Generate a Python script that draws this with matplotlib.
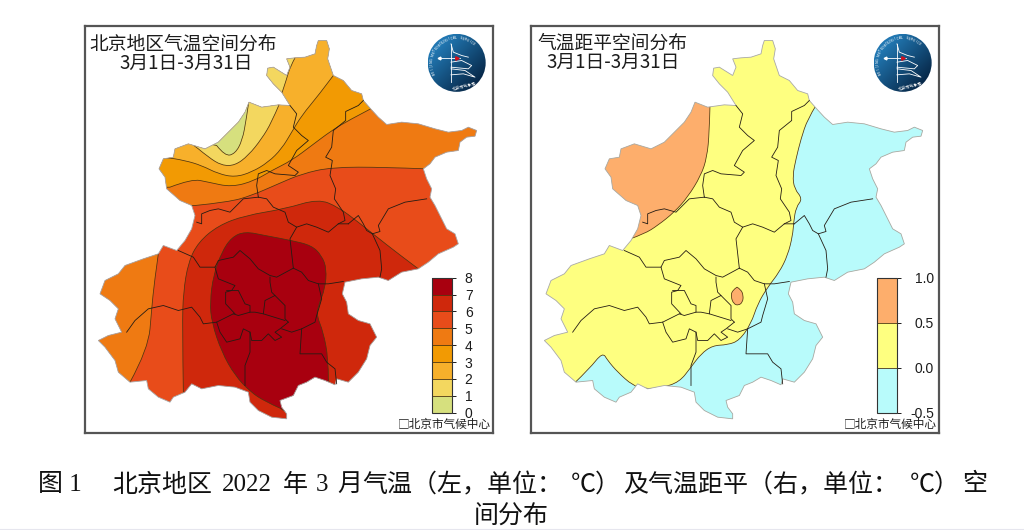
import numpy as np
import matplotlib
matplotlib.use("Agg")
import matplotlib.pyplot as plt
from matplotlib.cm import ScalarMappable
from matplotlib.colors import BoundaryNorm, ListedColormap
from matplotlib.lines import Line2D
from matplotlib.patches import Circle, PathPatch, Polygon
from matplotlib.path import Path

# map coordinates: 1/3 pixel units measured from the corner of each panel
outline = [(700,45),(725,45),(733,70),(728,100),(745,150),(775,165),(800,195),(830,205),(835,225),(857,250),
           (880,275),(905,297),(950,290),(1000,295),(1050,310),(1090,320),(1130,315),(1150,305),(1175,315),(1170,332),
           (1145,335),(1125,350),(1120,375),(1085,380),(1050,395),(1035,415),(1015,430),(1025,460),(1040,490),(1035,515),
           (1050,540),(1065,570),(1080,600),(1085,610),(1110,625),(1120,655),(1105,665),(1060,685),(1030,710),(1000,730),
           (950,740),(910,765),(880,755),(830,760),(780,770),(772,805),(785,830),(790,865),(820,885),(855,895),
           (875,935),(855,960),(845,1000),(820,1040),(790,1070),(755,1060),(750,1078),(720,1065),(690,1055),(665,1070),
           (640,1080),(625,1110),(585,1125),(590,1145),(605,1165),(605,1180),(560,1175),(520,1155),(495,1130),(490,1100),
           (450,1085),(400,1080),(350,1090),(320,1075),(300,1100),(265,1115),(255,1130),(220,1115),(190,1090),(185,1065),
           (135,1070),(100,1040),(90,1005),(60,965),(40,945),(70,930),(110,920),(90,880),(100,850),(75,825),
           (45,805),(60,765),(100,745),(120,720),(175,700),(220,685),(235,660),(275,675),(300,645),(320,610),
           (330,570),(320,540),(285,525),(245,490),(240,455),(222,430),(235,400),(265,395),(270,370),(310,355),
           (360,370),(400,350),(430,320),(460,290),(480,260),(492,230),(530,245),(580,238),(615,240),(590,200),
           (565,175),(545,150),(548,128),(565,125),(605,150),(615,125),(605,100),(630,97),(660,95),(690,85),(695,60)]

d_yanqing = [(615,240),(635,265),(625,305),(650,330),(670,345),(635,375),(610,420),(640,440),(630,450),(570,445),(545,435),(520,445),(515,480),(520,515)]
d_changping_n = [(520,515),(475,520),(435,560),(400,550),(375,555),(350,565),(350,595),(335,590)]
d_changping_e = [(520,515),(545,520),(565,545),(600,560),(610,590),(635,605),(615,640),(625,728)]
d_shunyi_n = [(635,605),(665,595),(695,605),(730,620),(760,595),(790,595)]
d_huairou_e = [(835,225),(820,240),(782,258),(782,285),(745,315),(740,365),(722,395),(742,405),(735,450),(752,490),(748,520),(775,560),(780,585),(760,595)]
d_pinggu = [(790,595),(820,570),(835,595),(845,615),(862,625),(885,618),(880,600),(910,550),(960,530),(1025,520)]
d_pinggu_s = [(862,625),(885,675),(890,730),(885,755)]
d_shunyi_s = [(625,728),(650,740),(670,765),(700,775),(730,775),(775,768)]
d_changping_s = [(625,728),(575,755),(555,750),(520,730),(495,700),(465,675),(445,695),(400,705),(390,725),(345,725),(325,695),(280,675)]
d_haidian = [(390,725),(400,760),(450,780),(440,795),(422,800),(422,835),(450,865)]
d_shijingshan = [(425,795),(460,795),(480,835),(495,840),(495,860),(460,870),(445,865)]
d_haidian_e = [(555,755),(555,770),(560,800),(570,810),(540,825),(535,865),(510,860),(495,860)]
d_fengtai_n = [(535,865),(600,885)]
d_dongcheng = [(570,810),(600,840),(600,880),(610,890)]
d_mentougou = [(445,865),(395,890),(355,895),(345,875),(320,845),(280,855),(235,840),(190,850),(150,885),(125,920)]
d_fengtai_s = [(395,890),(405,920),(425,950),(465,940),(475,910),(495,920),(500,945),(530,945),(550,925),(570,945),(590,935),(570,920),(585,910),(610,890)]
d_chaoyang_e = [(700,775),(710,820),(695,870),(690,890),(650,910),(620,920),(590,910)]
d_tongzhou = [(650,910),(645,985),(690,985),(710,985),(725,1010),(750,1030),(755,1075)]
d_daxing = [(495,920),(495,980),(480,1020),(480,1080)]
districts = [d_yanqing, d_changping_n, d_changping_e, d_shunyi_n, d_huairou_e, d_pinggu, d_pinggu_s, d_shunyi_s,
             d_changping_s, d_haidian, d_shijingshan, d_haidian_e, d_fengtai_n, d_dongcheng, d_mentougou,
             d_fengtai_s, d_chaoyang_e, d_tongzhou, d_daxing]

# temperature contours, each with the points that close it outside the map
temp_levels = [0, 1, 2, 3, 4, 5, 6, 7, 8]
temp_colors = ["#d6e07e", "#f3d75f", "#f7b02b", "#f29a03", "#ef7a12", "#e84c1a", "#cf280c", "#a8000f"]
t5 = [(1020,430),(900,425),(740,425),(650,445),(580,475),(500,510),(430,530),(330,540)]
t5_out = [(100,540),(100,-10),(1300,-10),(1300,430)]
t5_sw = [(220,685),(208,770),(200,850),(190,970),(135,1070)]
t5_sw_out = [(0,1070),(0,685)]
t4 = [(857,250),(790,285),(740,315),(680,360),(620,405),(560,435),(510,465),(440,485),(370,470),(320,460),(255,485)]
t4_out = [(100,490),(100,-10),(1000,-10),(1000,150),(880,235)]
t3 = [(745,150),(700,210),(650,270),(620,320),(590,370),(550,410),(500,440),(450,455),(400,445),(350,420),(300,405),(240,395),(230,400)]
t3_out = [(100,400),(100,-10),(800,-10),(800,80)]
t2 = [(582,238),(560,290),(530,340),(490,390),(450,420),(410,420),(370,395),(340,370)]
t2_out = [(300,340),(300,150),(570,200)]
t2_north = [(630,97),(615,125),(605,160),(590,205)]
t2_north_out = [(500,205),(500,50),(630,50)]
t1 = [(492,225),(484,280),(472,345),(450,385),(420,392),(395,360)]
t1_out = [(300,340),(300,150),(480,200)]
t6 = [(295,1100),(292,900),(295,800),(310,710),(340,650),(400,600),(480,570),(600,550),(700,520),(760,545),(820,590),(870,630),(940,685),(1000,730)]
t6_out = [(1000,745),(1000,1250),(295,1250)]
t7 = [(585,1148),(540,1128),(495,1098),(450,1050),(410,980),(380,890),(375,830),(385,750),(410,680),(440,635),(480,618),(540,630),(620,645),(680,660),(710,690),(725,730),(720,790),(700,840),(695,870),(715,920),(730,1000),(730,1060)]
t7_out = [(740,1110),(700,1160),(620,1170)]

# anomaly contours
anom_levels = [-0.5, 0.0, 0.5, 1.0]
anom_labels = ["-0.5", "0.0", "0.5", "1.0"]
anom_colors = ["#b8fbfb", "#feff80", "#fdae6c"]
a_warm = [(537,240),(535,320),(528,395),(510,450),(470,515),(430,560),(380,600),(340,625),(298,640)]
a_warm_out = [(100,640),(100,100),(537,100)]
a_cold = [(855,240),(830,280),(810,340),(795,400),(785,450),(790,490),(815,520),(795,545),(788,590),(785,630),(770,690),(745,740),(710,785),(680,835),(660,895),(625,945),(590,958),(545,960),(510,985),(480,1025),(445,1070),(390,1087),(340,1090),(305,1080),(260,1040),(230,1005),(215,980),(175,1030),(130,1073)]
a_cold_out = [(100,1300),(1300,1300),(1300,200)]
a_island = [(618,785),(630,792),(637,810),(635,830),(622,840),(608,835),(600,815),(603,795),(618,785)]

logo_stem = [(1098,55),(1098,170)]
logo_curve1 = [(1098,55),(1105,80),(1130,90),(1150,95)]
logo_curve2 = [(1098,110),(1130,105),(1160,120),(1150,130),(1098,125)]
logo_curve3 = [(1098,130),(1140,135),(1170,155),(1135,145),(1098,148)]
logo_arrow = [(1062,97),(1125,97)]

caption_parts = ["图 1", "北京地区", "2022", "年", "3", "月", "气温（左，单位：", "℃）", "及气温距平（右，单位：", "℃）", "空"]
caption_x = [38, 112, 222, 283, 316, 337, 362, 571, 623, 910, 962]

title_font = ["Noto Sans CJK SC", "DejaVu Sans"]
caption_font = ["Liberation Serif", "Noto Sans CJK SC"]
contour_color = "#4f3410"


def smooth_path(points, closure):
    # quadratic curves through the midpoints, closure part stays straight
    verts = [points[0]]
    codes = [Path.MOVETO]
    for i in range(1, len(points) - 1):
        a, b = points[i], points[i + 1]
        end = b if i == len(points) - 2 else ((a[0] + b[0]) / 2, (a[1] + b[1]) / 2)
        verts += [a, end]
        codes += [Path.CURVE3, Path.CURVE3]
    for p in closure:
        verts.append(p)
        codes.append(Path.LINETO)
    verts.append(points[0])
    codes.append(Path.CLOSEPOLY)
    return Path(verts, codes)


def fill_band(ax, points, closure, color, clip):
    band = PathPatch(smooth_path(points, closure), facecolor=color, edgecolor=contour_color, lw=0.55, zorder=2)
    ax.add_patch(band)
    band.set_clip_path(clip)


def add_logo(ax):
    cx, cy, r = 1115, 112, 87
    xx, yy = np.meshgrid(np.linspace(-1, 1, 120), np.linspace(-1, 1, 120))
    shade = np.clip((xx + yy + 1.2) / 2.8, 0, 1)
    rgb = np.stack([0.13 - 0.11 * shade, 0.47 - 0.34 * shade, 0.70 - 0.45 * shade], axis=2)
    im = ax.imshow(rgb, extent=(cx - r, cx + r, cy + r, cy - r), aspect="auto", zorder=5)
    im.set_clip_path(Circle((cx, cy), r, transform=ax.transData))
    for line in [logo_stem, logo_curve1, logo_curve2, logo_curve3, logo_arrow]:
        ax.plot(*zip(*line), color="white", lw=0.6, zorder=6)
    ax.plot(1062, 97, marker="<", color="white", ms=2, zorder=6)
    ax.plot(1115, 97, marker=">", color="#d0101c", ms=2.5, zorder=7)
    rim = "BEIJING METEOROLOGICAL SERVICE"
    for i, ch in enumerate(rim):
        ang = np.deg2rad(205 - i * 5.4)
        ax.text(cx + 74 * np.cos(ang), cy - 74 * np.sin(ang), ch, color="white", fontsize=2.4,
                rotation=np.rad2deg(ang) - 90, ha="center", va="center", zorder=7)
    ax.text(cx + 22, cy + 72, "北京市气象局", color="white", fontsize=3, family=title_font,
            rotation=15, ha="center", va="center", zorder=7)


def draw_panel(left_px, title_lines, bands):
    ax = fig.add_axes([left_px / 1024, 1 - 432.5 / 530, 408 / 1024, 406 / 530])
    clip = Polygon(outline, closed=True, facecolor=bands[0][2], edgecolor="none", zorder=1)
    ax.add_patch(clip)
    for points, closure, color in bands[1:]:
        fill_band(ax, points, closure, color, clip)
    ax.add_patch(Polygon(outline, closed=True, facecolor="none", edgecolor="#a8a8a8", lw=0.6, zorder=3))
    for d in districts:
        ax.plot(*zip(*d), color="#241c14", lw=0.6, zorder=4, solid_joinstyle="round")
    add_logo(ax)
    for x, y, s in title_lines:
        ax.text(x, y, s, fontsize=13.5, family=title_font, color="#1c1c1c", ha="left", va="center", zorder=8)
    ax.text(938, 1197, "□北京市气候中心", fontsize=8.4, family=title_font, color="#1c1c1c", ha="left", va="center", zorder=9)
    ax.set_xlim(0, 1224)
    ax.set_ylim(1221, 3)
    ax.set_xticks([])
    ax.set_yticks([])
    for s in ax.spines.values():
        s.set_linewidth(1.6)
        s.set_color("#555555")
    return ax


def draw_scale(x_px, levels, colors, labels, pad):
    cax = fig.add_axes([x_px / 1024, 1 - 412.7 / 530, 20 / 1024, 135 / 530], zorder=6)
    norm = BoundaryNorm(levels, len(colors))
    cb = fig.colorbar(ScalarMappable(norm=norm, cmap=ListedColormap(colors)), cax=cax, ticks=levels,
                      spacing="proportional", drawedges=True)
    cb.dividers.set_color(contour_color)
    cb.dividers.set_linewidth(0.6)
    cb.outline.set_edgecolor("#333333")
    cb.outline.set_linewidth(0.8)
    cb.set_ticklabels(labels)
    cax.tick_params(length=3, width=0.7, pad=pad, labelsize=10, colors="#1c1c1c")
    for t in cax.get_yticklabels():
        t.set_ha("right")
        t.set_family("Liberation Sans")


fig = plt.figure(figsize=(10.24, 5.30), dpi=100, facecolor="white")

temp_bands = [
    (None, None, temp_colors[5]),
    (t5, t5_out, temp_colors[4]),
    (t5_sw, t5_sw_out, temp_colors[4]),
    (t4, t4_out, temp_colors[3]),
    (t3, t3_out, temp_colors[2]),
    (t2, t2_out, temp_colors[1]),
    (t2_north, t2_north_out, temp_colors[1]),
    (t1, t1_out, temp_colors[0]),
    (t6, t6_out, temp_colors[6]),
    (t7, t7_out, temp_colors[7]),
]
anom_bands = [
    (None, None, anom_colors[1]),
    (a_warm, a_warm_out, anom_colors[2]),
    (a_cold, a_cold_out, anom_colors[0]),
    (a_island, [], anom_colors[2]),
]

draw_panel(85, [(12, 55, "北京地区气温空间分布"), (103, 115, "3月1日-3月31日")], temp_bands)
draw_panel(531, [(18, 52, "气温距平空间分布"), (47, 112, "3月1日-3月31日")], anom_bands)

draw_scale(431.7, temp_levels, temp_colors, [str(v) for v in temp_levels], 12)
draw_scale(876.7, anom_levels, anom_colors, anom_labels, 24)

# caption pieces are placed one by one, the source has wider gaps than plain spaces
for s, x in zip(caption_parts, caption_x):
    fig.text(x / 1024, 1 - 485 / 530, s, fontsize=18, family=caption_font, color="#111111", ha="left", va="center")
fig.text(511 / 1024, 1 - 517 / 530, "间分布", fontsize=18, family=caption_font, color="#111111",
         ha="center", va="center")
fig.add_artist(Line2D([0, 1], [1 - 528.5 / 530] * 2, color="#e6e6ee", lw=0.8))

fig.savefig("out.png", dpi=100)
